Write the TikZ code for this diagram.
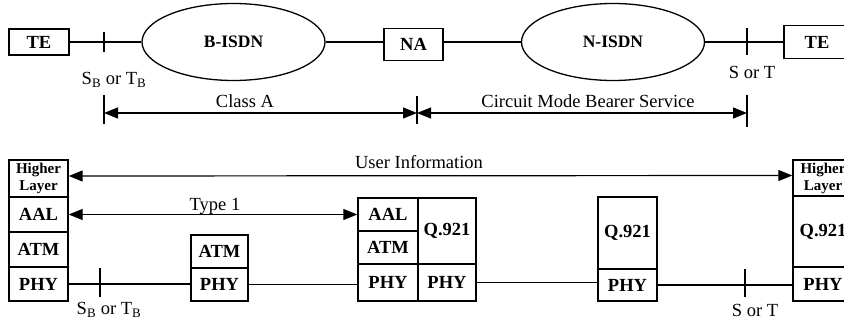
\documentclass[tikz,border=0pt]{standalone}
\usepackage{fontspec}
\setmainfont{Liberation Serif}
\usetikzlibrary{arrows.meta,shapes.geometric}

\begin{document}
\begin{tikzpicture}[x=1pt,y=-1pt,
  line width=1.2pt,
  box/.style={draw, line width=1.4pt, inner sep=0pt,
    font=\fontsize{18.5}{20}\selectfont\bfseries},
  hlbox/.style={box, align=center, font=\fontsize{15}{17}\selectfont\bfseries},
  cloud/.style={draw, ellipse, line width=1.3pt, inner sep=0pt,
    minimum width=183pt, minimum height=77pt,
    font=\fontsize{17.5}{19}\selectfont\bfseries},
  txt/.style={inner sep=0pt, font=\fontsize{18.5}{21}\selectfont},
  span/.style={line width=1.2pt,
    {Triangle[length=14pt,width=11pt]}-{Triangle[length=14pt,width=11pt]}},
  tick/.style={line width=1.2pt}
]
\useasboundingbox (0,0) rectangle (844,321);
\clip (0,0) rectangle (844,321);

% ---------- network configuration ----------
\node[box, minimum width=60pt, minimum height=26pt] (te1) at (39,42) {TE};
\node[cloud] (bisdn) at (233.5,42) {B-ISDN};
\node[box, minimum width=59pt, minimum height=32pt] (na) at (413.5,44.5) {NA};
\node[cloud] (nisdn) at (613,42) {N-ISDN};
\node[box, minimum width=66pt, minimum height=33pt] (te2) at (817,42) {TE};

\draw (te1.east) -- (bisdn.west);
\draw (bisdn.east) -- (bisdn.east -| na.west);
\draw (na.east |- nisdn.west) -- (nisdn.west);
\draw (nisdn.east) -- (te2.west);

% reference points on the access lines
\coordinate (sbA) at (104,32);  \coordinate (sbB) at (104,52);
\coordinate (stA) at (747,28);  \coordinate (stB) at (747,55);
\draw[tick] (sbA) -- (sbB);
\draw[tick] (stA) -- (stB);
\node[txt] (sbl) at (114,80) {S\textsubscript{B} or T\textsubscript{B}};
\node[txt] (stl) at (752,72) {S or T};

% ---------- service spans ----------
\coordinate (c1a) at (104,95);  \coordinate (c1b) at (104,124);
\coordinate (c2a) at (417,96);  \coordinate (c2b) at (417,124);
\coordinate (c3a) at (747,95);  \coordinate (c3b) at (747,127);
\draw[tick] (c1a) -- (c1b);
\draw[tick] (c2a) -- (c2b);
\draw[tick] (c3a) -- (c3b);
\coordinate (s1) at (104,113);
\coordinate (s2) at (417,113);
\coordinate (s3) at (747,113);
\draw[span] (s1) -- (s2);
\draw[span] (s2) -- (s3);
\node[txt] (classa) at (245,101) {Class A};
\node[txt] (cmbs) at (588,101) {Circuit Mode Bearer Service};

% ---------- protocol stacks ----------
% terminal (B-ISDN side)
\node[hlbox, minimum width=59pt, minimum height=37pt] (hl1) at (38.5,178.5) {Higher\\Layer};
\node[box, minimum width=59pt, minimum height=35pt] (aal1) at (38.5,214.5) {AAL};
\node[box, minimum width=59pt, minimum height=35pt] (atm1) at (38.5,249.5) {ATM};
\node[box, minimum width=59pt, minimum height=34pt] (phy1) at (38.5,284) {PHY};

% ATM switch
\node[box, minimum width=57pt, minimum height=33pt] (atm2) at (219.5,251.5) {ATM};
\node[box, minimum width=57pt, minimum height=33pt] (phy2) at (219.5,284.5) {PHY};

% network adapter
\node[box, minimum width=60pt, minimum height=33pt] (aal3) at (388,214.5) {AAL};
\node[box, minimum width=60pt, minimum height=33pt] (atm3) at (388,247.5) {ATM};
\node[box, minimum width=60pt, minimum height=37pt] (phy3) at (388,282.5) {PHY};
\node[box, minimum width=58pt, minimum height=66pt] (q3) at (447,231) {Q.921};
\node[box, minimum width=58pt, minimum height=37pt] (phy4) at (447,282.5) {PHY};

% N-ISDN node
\node[box, minimum width=59pt, minimum height=72pt] (q5) at (627.5,233) {Q.921};
\node[box, minimum width=59pt, minimum height=32pt] (phy5) at (627.5,285) {PHY};

% terminal (N-ISDN side)
\node[hlbox, minimum width=60pt, minimum height=36pt] (hl6) at (823,178) {Higher\\Layer};
\node[box, minimum width=60pt, minimum height=71pt] (q6) at (823,231.5) {Q.921};
\node[box, minimum width=60pt, minimum height=34pt] (phy6) at (823,284) {PHY};

% physical links
\draw (phy1.east) -- (phy1.east -| phy2.west);
\draw (phy2.east) -- (phy2.east -| phy3.west);
\draw (phy4.east) -- (phy4.east -| phy5.west);
\draw (phy5.east) -- (phy5.east -| phy6.west);

\coordinate (bsA) at (100,268); \coordinate (bsB) at (100,297);
\coordinate (btA) at (745,269); \coordinate (btB) at (745,297);
\draw[tick] (bsA) -- (bsB);
\draw[tick] (btA) -- (btB);
\node[txt] (sbl2) at (109,310) {S\textsubscript{B} or T\textsubscript{B}};
\node[txt] (stl2) at (755,310) {S or T};

% peer relations
\draw[span] ([yshift=2.5pt]hl1.east) -- ([yshift=2.5pt]hl6.west);
\node[txt] (ui) at (419,162) {User Information};
\draw[span] (aal1.east) -- (aal3.west);
\node[txt] (t1) at (215,206) {Type 1};
\end{tikzpicture}
\end{document}
